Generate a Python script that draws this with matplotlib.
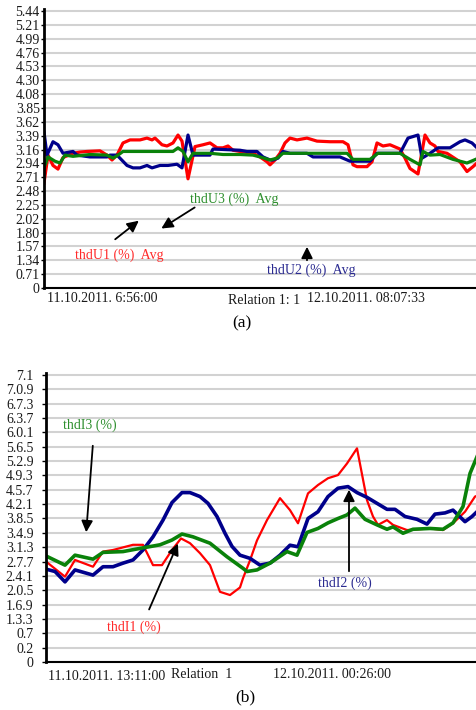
import matplotlib
matplotlib.use('Agg')
import matplotlib.pyplot as plt

# ---- panel (a): voltage THD averages ----
a_tick_vals = [0.8844, 1.1122, 1.34, 1.568, 1.796, 2.023, 2.251, 2.479, 2.707, 2.934,
               3.162, 3.39, 3.618, 3.846, 4.073, 4.301, 4.529, 4.757, 4.984, 5.212, 5.44]
a_tick_labels = ['0', '0.71', '1.34', '1.57', '1.80', '2.02', '2.25', '2.48', '2.71', '2.94',
                 '3.16', '3.39', '3.62', '3.85', '4.08', '4.30', '4.53', '4.76', '4.99', '5.21', '5.44']

u1_t = [0, 4, 9, 14, 19, 29, 36, 43, 56, 63, 68, 73, 79, 86, 96, 103, 108, 111, 118, 123,
        129, 134, 138, 144, 151, 159, 166, 173, 179, 184, 189, 196, 209, 216, 223, 226, 231, 236, 241, 246,
        253, 263, 273, 286, 299, 304, 309, 313, 323, 328, 333, 339, 346, 356, 361, 366, 374, 381, 386, 391,
        394, 403, 416, 423, 429, 433]
u1_v = [2.61, 3.07, 2.90, 2.84, 3.03, 3.10, 3.12, 3.13, 3.14, 3.07, 2.99, 3.07, 3.27, 3.32, 3.32, 3.35, 3.32, 3.35, 3.24, 3.22,
        3.27, 3.40, 3.30, 2.68, 3.21, 3.24, 3.27, 3.19, 3.19, 3.22, 3.15, 3.13, 3.10, 3.04, 2.96, 2.91, 2.99, 3.10, 3.27, 3.35,
        3.32, 3.35, 3.30, 3.29, 3.29, 3.24, 2.91, 2.88, 2.88, 2.96, 3.27, 3.22, 3.24, 3.17, 3.02, 2.85, 2.76, 3.40, 3.27, 3.22,
        3.13, 3.10, 2.96, 2.80, 2.88, 2.94]

u2_t = [0, 3, 9, 14, 19, 29, 33, 46, 63, 66, 73, 83, 89, 96, 103, 108, 116, 124, 133, 138,
        144, 149, 166, 169, 196, 203, 213, 219, 226, 229, 234, 239, 246, 263, 269, 296, 306, 326, 333, 356,
        364, 374, 378, 386, 394, 406, 416, 421, 428, 433]
u2_v = [3.45, 3.07, 3.29, 3.24, 3.10, 3.13, 3.07, 3.04, 3.04, 3.07, 3.07, 2.90, 2.86, 2.86, 2.90, 2.86, 2.90, 2.90, 2.92, 2.86,
        3.40, 3.07, 3.07, 3.17, 3.15, 3.13, 3.13, 3.04, 2.99, 2.99, 3.02, 3.13, 3.10, 3.10, 3.04, 3.04, 2.97, 2.97, 3.10, 3.10,
        3.35, 3.40, 3.02, 3.10, 3.19, 3.19, 3.29, 3.32, 3.27, 3.19]

u3_t = [0, 4, 11, 16, 21, 29, 46, 63, 69, 74, 79, 96, 129, 134, 139, 144, 149, 166, 179, 196,
        209, 216, 226, 233, 239, 303, 309, 326, 334, 356, 366, 376, 379, 386, 396, 409, 423, 433]
u3_v = [2.86, 3.04, 2.97, 2.94, 3.07, 3.05, 3.08, 3.07, 3.02, 3.07, 3.13, 3.13, 3.13, 3.19, 3.13, 2.96, 3.10, 3.10, 3.08, 3.08,
        3.07, 3.04, 2.99, 3.02, 3.10, 3.10, 3.00, 3.00, 3.10, 3.10, 3.00, 2.91, 3.13, 3.07, 3.08, 3.00, 2.94, 3.01]

# ---- panel (b): current THD ----
b_tick_vals = [0.25, 0.61, 0.97, 1.33, 1.69, 2.05, 2.41, 2.77, 3.13, 3.49, 3.85,
               4.21, 4.57, 4.93, 5.29, 5.65, 6.01, 6.37, 6.73, 7.09, 7.45]
b_tick_labels = ['0', '0.2', '0.7', '1.3.3', '1.6.9', '2.0.5', '2.4.1', '2.7.7', '3.1.3', '3.4.9', '3.8.5',
                 '4.2.1', '4.5.7', '4.9.3', '5.2.9', '5.6.5', '6.0.1', '6.3.7', '6.7.3', '7.0.9', '7.1']

i1_t = [0, 19, 29, 47, 57, 67, 87, 97, 107, 116, 126, 135, 144, 154, 164, 174, 184, 194, 197, 204,
        211, 221, 234, 244, 252, 262, 272, 282, 292, 301, 311, 321, 327, 332, 341, 347, 361, 384, 397, 407,
        419, 429, 431]
i1_v = [2.77, 2.39, 2.81, 2.64, 3.02, 3.06, 3.19, 3.19, 2.68, 2.68, 3.06, 3.35, 3.23, 2.98, 2.68, 2.01, 1.93, 2.12, 2.35, 2.80,
        3.30, 3.81, 4.36, 4.06, 3.73, 4.48, 4.69, 4.86, 4.94, 5.23, 5.61, 4.31, 3.90, 3.69, 3.81, 3.69, 3.56, 3.60, 3.56, 3.73,
        4.02, 4.40, 4.42]

i2_t = [0, 9, 19, 29, 47, 57, 67, 77, 87, 97, 107, 117, 126, 136, 144, 154, 162, 171, 179, 186,
        194, 204, 214, 224, 234, 244, 252, 262, 272, 282, 292, 302, 311, 321, 331, 341, 349, 359, 371, 381,
        389, 399, 407, 419, 426, 431]
i2_v = [2.58, 2.52, 2.26, 2.56, 2.43, 2.64, 2.64, 2.73, 2.81, 3.06, 3.39, 3.81, 4.25, 4.50, 4.50, 4.40, 4.23, 3.90, 3.48, 3.15,
        2.93, 2.85, 2.68, 2.73, 2.93, 3.18, 3.14, 3.85, 4.02, 4.40, 4.61, 4.65, 4.50, 4.38, 4.23, 4.08, 4.08, 3.90, 3.83, 3.71,
        3.96, 3.99, 4.06, 3.77, 3.90, 4.02]

i3_t = [0, 19, 29, 47, 57, 77, 94, 114, 126, 136, 147, 164, 181, 197, 201, 211, 224, 241, 251, 261,
        272, 282, 292, 301, 309, 319, 331, 341, 347, 357, 367, 384, 397, 407, 417, 424, 431]
i3_v = [2.91, 2.68, 2.93, 2.83, 3.00, 3.02, 3.10, 3.19, 3.31, 3.46, 3.39, 3.23, 2.89, 2.60, 2.52, 2.56, 2.73, 3.02, 2.93, 3.50,
        3.60, 3.74, 3.85, 3.94, 4.11, 3.83, 3.69, 3.58, 3.64, 3.48, 3.58, 3.60, 3.58, 3.74, 4.15, 4.98, 5.40]

RED = '#ff0000'
NAVY = '#00008b'
GREEN = '#0a820a'
FONT = 'Liberation Serif'

W, H = 477, 710
plt.rcParams['font.family'] = FONT
fig = plt.figure(figsize=(W / 100, H / 100), dpi=100)


def px(x, y):
    # pixel position -> figure fraction
    return (x / W, 1 - y / H)


def make_axes(left, right, top, bottom):
    l, b = px(left, bottom)
    r, t = px(right, top)
    return fig.add_axes([l, b, r - l, t - b])


def style_axes(ax, ticks, labels, lo, hi, xmax, tlen, tpad):
    ax.set_ylim(lo, hi)
    ax.set_xlim(0, xmax)
    ax.set_yticks(ticks)
    ax.set_yticklabels(labels, fontsize=10, color='#1a1a1a')
    ax.set_xticks([])
    ax.tick_params(axis='y', length=tlen, width=1, pad=tpad, color='black')
    ax.yaxis.grid(True, color='#d2d2d2', lw=1.5)
    ax.set_axisbelow(True)
    for s in ['top', 'right']:
        ax.spines[s].set_visible(False)
    ax.spines['left'].set_linewidth(2)
    ax.spines['bottom'].set_linewidth(1.5)


def arrow(x0, y0, x1, y1):
    fig.add_artist(plt.matplotlib.patches.FancyArrowPatch(
        px(x0, y0), px(x1, y1), transform=fig.transFigure,
        arrowstyle='-|>', mutation_scale=17, lw=1.3, color='black'))


def label(x, y, s, color, size=10):
    fig.text(*px(x, y), s, color=color, fontsize=size, ha='left', va='center')


# panel (a)
ax1 = make_axes(44, 476, 9, 288)
ax1.plot(u1_t, u1_v, color=RED, lw=2.3, solid_joinstyle='round')
ax1.plot(u2_t, u2_v, color=NAVY, lw=2.3, solid_joinstyle='round')
ax1.plot(u3_t, u3_v, color=GREEN, lw=2.3, solid_joinstyle='round')
style_axes(ax1, a_tick_vals, a_tick_labels, 0.8844, 5.44 + 0.033, 432, 2, 1)

label(75, 255, 'thdU1 (%)  Avg', '#ff2a2a')
label(190, 199, 'thdU3 (%)  Avg', '#2e8f2e')
label(267, 270, 'thdU2 (%)  Avg', '#2a2a90')
arrow(113, 241, 141, 219)
arrow(197, 206, 159, 230)
arrow(307, 263, 307, 244)

label(47, 299, '11.10.2011. 6:56:00', '#1a1a1a')
label(228, 301, 'Relation 1: 1', '#1a1a1a')
label(307, 298, '12.10.2011. 08:07:33', '#1a1a1a')
fig.text(*px(242, 323), '(a)', fontsize=12.5, ha='center', va='center')

# panel (b)
ax2 = make_axes(46, 476, 373, 662)
ax2.plot(i1_t, i1_v, color=RED, lw=1.6, solid_joinstyle='round')
ax2.plot(i2_t, i2_v, color=NAVY, lw=2.6, solid_joinstyle='round')
ax2.plot(i3_t, i3_v, color=GREEN, lw=2.6, solid_joinstyle='round')
style_axes(ax2, b_tick_vals, b_tick_labels, 0.25, 7.45 + 0.05, 430, 3, 6)

label(63, 425, 'thdI3 (%)', '#2e8f2e')
label(107, 627, 'thdI1 (%)', '#ff2a2a')
label(318, 583, 'thdI2 (%)', '#2a2a90')
arrow(93, 443, 86, 535)
arrow(148, 612, 179, 541)
arrow(349, 574, 349, 487)

label(48, 676, '11.10.2011. 13:11:00', '#1a1a1a')
label(171, 675, 'Relation  1', '#1a1a1a')
label(273, 674, '12.10.2011. 00:26:00', '#1a1a1a')
fig.text(*px(245, 697), '(b)', fontsize=12.5, ha='center', va='center')

fig.savefig('out.png', dpi=100)
